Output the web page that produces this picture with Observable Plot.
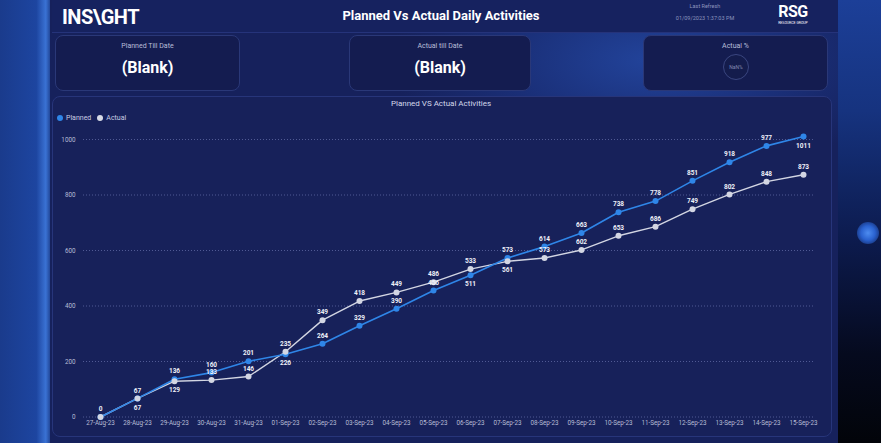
<!DOCTYPE html>
<html>
<head>
<meta charset="utf-8">
<script src="https://cdn.jsdelivr.net/npm/d3@7"></script>
<script src="https://cdn.jsdelivr.net/npm/@observablehq/plot@0.6"></script>
<style>
  body { margin:0; width:881px; height:443px; overflow:hidden; position:relative; background:#0a1338; font-family: Roboto, "Liberation Sans", sans-serif; }
  .abs { position:absolute; }
  #left { left:0; top:0; width:52px; height:443px; background:linear-gradient(90deg,#1a3b8c 0%,#1d45a0 70%,#3a72d4 88%,#17347e 100%); }
  #main { left:50px; top:0; width:790px; height:443px; background:radial-gradient(ellipse 260px 120px at 600px 60px,#22439a 0%,#1a2f78 55%,rgba(23,35,95,0) 100%), #16215c; }
  #right { left:838px; top:0; width:43px; height:443px; background:linear-gradient(180deg,#1c3f98 0%,#16337f 25%,#0c1a4c 55%,#050a1e 80%,#020409 100%); }
  #glow { left:857px; top:222px; width:22px; height:22px; border-radius:50%; background:radial-gradient(circle,#4d8cf0 0%,#2a62d0 45%,rgba(30,70,180,0) 100%); }
  #header { left:52px; top:0; width:786px; height:32px; background:#16225f; border-bottom:1px solid #25337a; }
  .card { border-radius:8px; background:#141c50; border:1px solid #2a3878; box-sizing:border-box; }
  .clabel { position:absolute; left:0; right:0; top:6px; text-align:center; font-size:7px; color:#b9bfd9; }
  .cval { position:absolute; left:0; right:0; top:22px; text-align:center; font-size:16px; font-weight:bold; color:#ffffff; }
  #panel { left:52px; top:96px; width:780px; height:341px; border-radius:8px; background:#17215a; border:1px solid #27357a; box-sizing:border-box; }
</style>
</head>
<body>
<div id="left" class="abs"></div>
<div id="main" class="abs"></div>
<div id="right" class="abs"></div>
<div id="glow" class="abs"></div>
<div id="header" class="abs"></div>
<div class="abs" style="left:62px;top:5px;font-size:20px;font-weight:bold;color:#fff;letter-spacing:-0.5px;">INS\GHT</div>
<div class="abs" style="left:241px;top:8px;width:400px;text-align:center;font-size:13px;font-weight:bold;color:#fff;">Planned Vs Actual Daily Activities</div>
<div class="abs" style="left:660px;top:3px;width:90px;text-align:center;font-size:5.5px;color:#8c94bd;">Last Refresh</div>
<div class="abs" style="left:660px;top:15px;width:90px;text-align:center;font-size:5.5px;color:#8c94bd;">01/09/2023 1:37:03 PM</div>
<div class="abs" style="left:772px;top:3px;width:42px;text-align:center;font-size:16px;font-weight:bold;color:#fff;letter-spacing:-0.5px;line-height:17px;">RSG</div>
<div class="abs" style="left:772px;top:21px;width:42px;text-align:center;font-size:3.5px;color:#fff;">RESOURCE GROUP</div>

<div class="abs card" style="left:55px;top:35px;width:185px;height:56px;"><div class="clabel">Planned Till Date</div><div class="cval">(Blank)</div></div>
<div class="abs card" style="left:349px;top:35px;width:182px;height:56px;"><div class="clabel">Actual till Date</div><div class="cval">(Blank)</div></div>
<div class="abs card" style="left:643px;top:35px;width:185px;height:56px;"><div class="clabel">Actual %</div>
  <div style="position:absolute;left:79px;top:18px;width:26px;height:26px;border-radius:50%;border:1px solid #3a4680;background:#141c4c;box-sizing:border-box;text-align:center;line-height:24px;font-size:5px;color:#8088b0;">NaN%</div>
</div>

<div id="panel" class="abs"></div>
<div class="abs" style="left:241px;top:99px;width:400px;text-align:center;font-size:8px;color:#d3d7ea;">Planned VS Actual Activities</div>
<div class="abs" style="left:57px;top:114px;font-size:7px;color:#c9cde2;display:flex;align-items:center;gap:3px;">
  <span style="display:inline-block;width:6px;height:6px;border-radius:50%;background:#2f86e8;"></span><span>Planned</span>
  <span style="display:inline-block;width:6px;height:6px;border-radius:50%;background:#d8dbe6;margin-left:3px;"></span><span>Actual</span>
</div>
<div id="chart" class="abs" style="left:52px;top:125px;"></div>

<script>
const dates = ["27-Aug-23","28-Aug-23","29-Aug-23","30-Aug-23","31-Aug-23","01-Sep-23","02-Sep-23","03-Sep-23","04-Sep-23","05-Sep-23","06-Sep-23","07-Sep-23","08-Sep-23","09-Sep-23","10-Sep-23","11-Sep-23","12-Sep-23","13-Sep-23","14-Sep-23","15-Sep-23"];
const planned = [0,67,136,160,201,226,264,329,390,456,511,573,614,663,738,778,851,918,977,1011];
const actual  = [0,67,129,133,146,235,349,418,449,486,533,561,573,602,653,686,749,802,848,873];
const yTicks = [0,200,400,600,800,1000];
const seriesNames = ["Planned","Actual"];

const rows = [];
dates.forEach((d,i) => {
  rows.push({date:d, series:seriesNames[0], value:planned[i], other:actual[i]});
  rows.push({date:d, series:seriesNames[1], value:actual[i], other:planned[i]});
});
const yMax = yTicks[yTicks.length-1];
function labelBelow(r) {
  if (r.value > yMax) return true;
  if (r.series === "Planned") return r.value < r.other && r.other - r.value < 25;
  return r.value <= r.other && r.other - r.value < 15;
}
const labels = rows.filter(r => !(r.series === "Actual" && r.value === 0 && r.other === 0));
const above = labels.filter(r => !labelBelow(r));
const below = labels.filter(r => labelBelow(r));
const colors = {Planned:"#2f86e8", Actual:"#d3d6e3"};

const chart = Plot.plot({
  width: 778, height: 310,
  marginLeft: 45, marginRight: 24, marginTop: 14, marginBottom: 18.5,
  style: {background:"transparent", fontFamily:"Roboto, 'Liberation Sans', sans-serif", color:"#b8bdd6"},
  x: {type:"point", domain:dates, padding:0, label:null},
  y: {domain:[0, yMax], label:null},
  color: {domain:seriesNames, range:[colors.Planned, colors.Actual]},
  marks: [
    Plot.ruleY(yTicks, {y:d=>d, stroke:"#7f8bc4", strokeOpacity:0.55, strokeDasharray:"1,2", insetLeft:-14, insetRight:-7}),
    Plot.axisX({tickSize:0, tickPadding:4, fontSize:6.3, fill:"#b8bdd6", label:null}),
    Plot.axisY({ticks:yTicks, tickFormat:d=>String(d), tickSize:0, tickPadding:22, fontSize:6.3, fill:"#b8bdd6", label:null}),
    Plot.line(rows.filter(r=>r.series==="Actual"), {x:"date", y:"value", stroke:colors.Actual, strokeWidth:1.4}),
    Plot.line(rows.filter(r=>r.series==="Planned"), {x:"date", y:"value", stroke:colors.Planned, strokeWidth:1.6}),
    Plot.dot(rows, {x:"date", y:"value", fill:"series", r:3}),
    Plot.text(above, {x:"date", y:"value", text:d=>String(d.value), dy:-8, fontSize:6.5, fill:"#eef0f8", fontWeight:"bold"}),
    Plot.text(below, {x:"date", y:"value", text:d=>String(d.value), dy:9, fontSize:6.5, fill:"#eef0f8", fontWeight:"bold"})
  ]
});
document.getElementById("chart").appendChild(chart);
</script>
</body>
</html>
